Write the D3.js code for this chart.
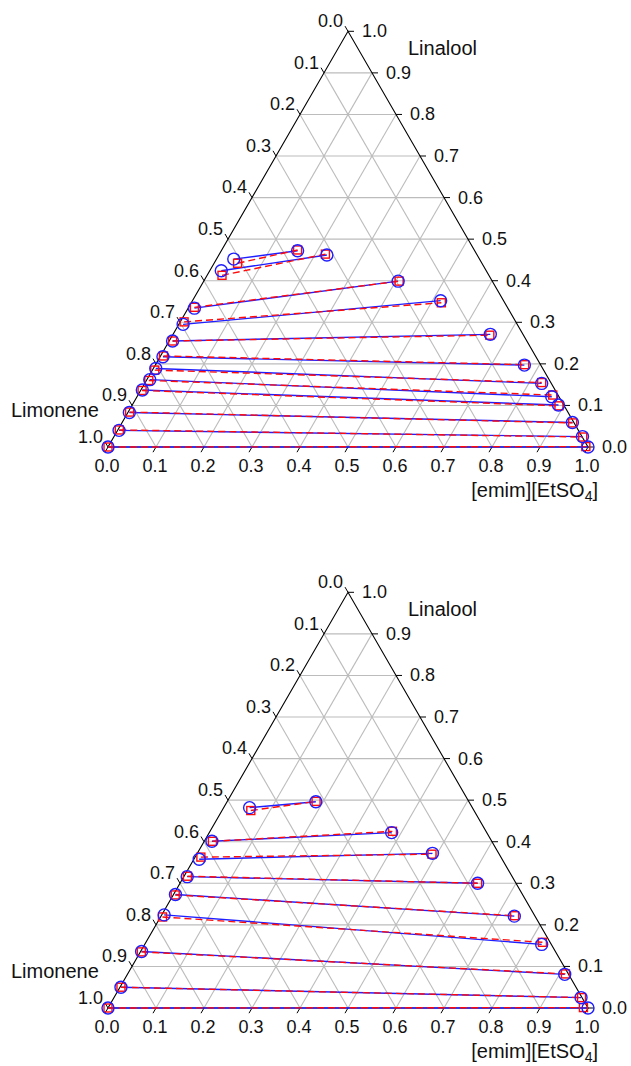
<!DOCTYPE html>
<html>
<head>
<meta charset="utf-8">
<script src="https://cdn.jsdelivr.net/npm/d3@7"></script>
<style>
  body { margin: 0; background: #fff; }
  text { font-family: Arial, "Liberation Sans", sans-serif; fill: #111; }
</style>
</head>
<body>
<div id="chart"></div>
<script>
// tie-line data, each point is [emim fraction, linalool fraction]
// top diagram: experimental (blue) and calculated (red)
const topExpRaff = [[0.036, 0.452], [0.024, 0.424], [0.013, 0.334], [0.009, 0.295], [0.007, 0.255], [0.006, 0.217], [0.005, 0.189], [0.006, 0.162], [0.003, 0.137], [0.003, 0.083], [0.003, 0.040], [0.0, 0.0]];
const topExpExtr = [[0.159, 0.472], [0.225, 0.462], [0.405, 0.399], [0.517, 0.352], [0.661, 0.271], [0.769, 0.197], [0.827, 0.153], [0.864, 0.121], [0.888, 0.101], [0.938, 0.059], [0.976, 0.025], [1.0, 0.0]];
const topCalcRaff = [[0.049, 0.442], [0.031, 0.413], [0.012, 0.336], [0.008, 0.301], [0.007, 0.255], [0.006, 0.219], [0.005, 0.185], [0.005, 0.160], [0.003, 0.136], [0.003, 0.084], [0.003, 0.041], [0.0, 0.0]];
const topCalcExtr = [[0.158, 0.474], [0.221, 0.464], [0.407, 0.399], [0.521, 0.347], [0.661, 0.269], [0.769, 0.198], [0.826, 0.155], [0.864, 0.125], [0.890, 0.099], [0.939, 0.058], [0.977, 0.024], [0.995, 0.001]];

// bottom diagram
const botExpRaff = [[0.054, 0.482], [0.016, 0.401], [0.011, 0.358], [0.007, 0.316], [0.004, 0.273], [0.005, 0.224], [0.002, 0.136], [0.002, 0.050], [0.0, 0.0]];
const botExpExtr = [[0.185, 0.496], [0.380, 0.422], [0.490, 0.372], [0.620, 0.300], [0.736, 0.221], [0.827, 0.153], [0.911, 0.081], [0.973, 0.025], [1.0, 0.0]];
const botCalcRaff = [[0.060, 0.475], [0.017, 0.401], [0.012, 0.363], [0.007, 0.317], [0.004, 0.272], [0.004, 0.219], [0.002, 0.135], [0.002, 0.050], [0.0, 0.0]];
const botCalcExtr = [[0.185, 0.497], [0.380, 0.425], [0.490, 0.370], [0.620, 0.300], [0.736, 0.222], [0.826, 0.158], [0.912, 0.082], [0.974, 0.025], [0.990, 0.001]];

const ticks = [0, 0.1, 0.2, 0.3, 0.4, 0.5, 0.6, 0.7, 0.8, 0.9, 1.0];

const W = 631, H = 1066;
const side = 480;
const h = side * Math.sqrt(3) / 2;

const svg = d3.select('#chart')
  .append('svg')
  .attr('width', W)
  .attr('height', H);

function ternary(x0, yB, expRaff, expExtr, calcRaff, calcExtr) {
  const g = svg.append('g');
  const xs = d3.scaleLinear().domain([0, 1]).range([x0, x0 + side]);
  const ys = d3.scaleLinear().domain([0, 1]).range([yB, yB - h]);
  // e = emim, l = linalool
  const px = (e, l) => xs(e + l / 2);
  const py = (e, l) => ys(l);

  // grid
  const inner = ticks.slice(1, -1);
  const grid = [];
  inner.forEach((v) => {
    grid.push([[0, v], [1 - v, v]]);
    grid.push([[v, 0], [v, 1 - v]]);
    grid.push([[1 - v, 0], [0, 1 - v]]);
  });
  g.selectAll('.grid')
    .data(grid)
    .join('line')
    .attr('x1', (d) => px(...d[0]))
    .attr('y1', (d) => py(...d[0]))
    .attr('x2', (d) => px(...d[1]))
    .attr('y2', (d) => py(...d[1]))
    .attr('stroke', '#bcbcbc')
    .attr('stroke-width', 1.1);

  // frame
  g.append('path')
    .attr('d', d3.line()([[px(0, 0), py(0, 0)], [px(1, 0), py(1, 0)], [px(0, 1), py(0, 1)]]) + 'Z')
    .attr('fill', 'none')
    .attr('stroke', '#000')
    .attr('stroke-width', 1.1);

  const tl = 6;
  const c60 = 0.5, s60 = Math.sqrt(3) / 2;
  const fmt = d3.format('.1f');

  // bottom axis ([emim][EtSO4])
  ticks.forEach((v) => {
    const x = px(v, 0), y = py(v, 0);
    g.append('line').attr('x1', x).attr('y1', y)
      .attr('x2', x - tl * c60).attr('y2', y + tl * s60)
      .attr('stroke', '#000');
    g.append('text').attr('x', x - 1).attr('y', y + 25)
      .attr('text-anchor', 'middle').attr('font-size', 18).text(fmt(v));
  });
  // right axis (Linalool)
  ticks.forEach((v) => {
    const x = px(1 - v, v), y = py(1 - v, v);
    g.append('line').attr('x1', x).attr('y1', y)
      .attr('x2', x + tl).attr('y2', y)
      .attr('stroke', '#000');
    g.append('text').attr('x', x + 14).attr('y', y + 6)
      .attr('font-size', 18).text(fmt(v));
  });
  // left axis (Limonene)
  ticks.forEach((v) => {
    const x = px(0, 1 - v), y = py(0, 1 - v);
    const xe = x - tl * c60, ye = y - tl * s60;
    g.append('line').attr('x1', x).attr('y1', y)
      .attr('x2', xe).attr('y2', ye)
      .attr('stroke', '#000');
    g.append('text').attr('x', xe - 2).attr('y', ye + 1)
      .attr('text-anchor', 'end').attr('font-size', 18).text(fmt(v));
  });

  // axis titles
  g.append('text').attr('x', x0 + 300).attr('y', yB - 392)
    .attr('font-size', 20).text('Linalool');
  g.append('text').attr('x', x0 - 97).attr('y', yB - 30)
    .attr('font-size', 20).text('Limonene');
  const t = g.append('text').attr('x', x0 + 490).attr('y', yB + 50)
    .attr('text-anchor', 'end').attr('font-size', 20);
  t.append('tspan').text('[emim][EtSO');
  t.append('tspan').attr('font-size', 14).attr('dy', 4).text('4');
  t.append('tspan').attr('dy', -4).text(']');

  // tie lines
  const blue = '#1e1eff', red = '#ff0a0a';
  const exp = expRaff.map((d, i) => [d, expExtr[i]]);
  const calc = calcRaff.map((d, i) => [d, calcExtr[i]]);

  g.selectAll('.exp-line')
    .data(exp)
    .join('line')
    .attr('x1', (d) => px(...d[0])).attr('y1', (d) => py(...d[0]))
    .attr('x2', (d) => px(...d[1])).attr('y2', (d) => py(...d[1]))
    .attr('stroke', blue).attr('stroke-width', 1.4);

  g.selectAll('.calc-line')
    .data(calc)
    .join('line')
    .attr('x1', (d) => px(...d[0])).attr('y1', (d) => py(...d[0]))
    .attr('x2', (d) => px(...d[1])).attr('y2', (d) => py(...d[1]))
    .attr('stroke', red).attr('stroke-width', 1.4)
    .attr('stroke-dasharray', '7,4');

  const expPts = expRaff.concat(expExtr);
  const calcPts = calcRaff.concat(calcExtr);

  g.selectAll('.calc-pt')
    .data(calcPts)
    .join('rect')
    .attr('x', (d) => px(...d) - 4)
    .attr('y', (d) => py(...d) - 4)
    .attr('width', 8).attr('height', 8)
    .attr('fill', 'none').attr('stroke', red).attr('stroke-width', 1.4);

  g.selectAll('.exp-pt')
    .data(expPts)
    .join('circle')
    .attr('cx', (d) => px(...d))
    .attr('cy', (d) => py(...d))
    .attr('r', 6)
    .attr('fill', 'none').attr('stroke', blue).attr('stroke-width', 1.4);
}

ternary(108, 447, topExpRaff, topExpExtr, topCalcRaff, topCalcExtr);
ternary(108, 1008, botExpRaff, botExpExtr, botCalcRaff, botCalcExtr);
</script>
</body>
</html>
